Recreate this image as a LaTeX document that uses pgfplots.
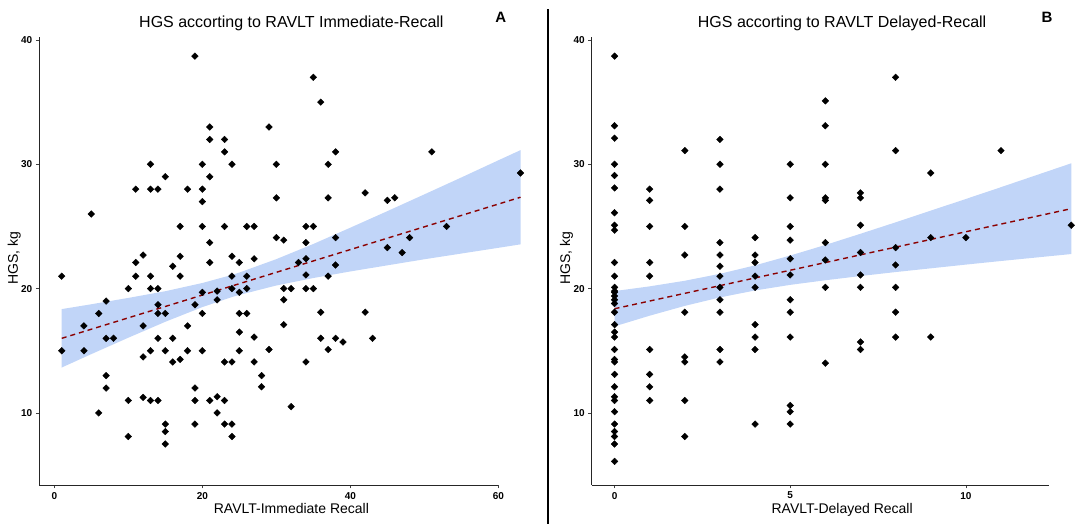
\documentclass[border=0pt]{standalone}
\usepackage{fontspec}
\setmainfont{Liberation Sans}
\usepackage{pgfplots}
\usepackage{pgfplotstable}
\pgfplotsset{compat=1.18}
\definecolor{bandblue}{RGB}{100,149,237}
\definecolor{fitred}{RGB}{139,0,0}

\pgfplotstableread{
x y
1 21
1 15
4 17
4 15
5 26
6 18
6 10
7 19
7 16
7 13
7 12
8 16
10 20
10 11
10 8.1
11 28
11 22.1
11 21
12 22.7
12 17
12 14.5
12 11.25
13 30
13 28
13 21
13 20
13 15
13 11
14 28
14 20
14 18.7
14 18
14 16
14 11
15 29
15 18
15 15
15 9.1
15 8.5
15 7.5
16 21.8
16 16
16 14.1
17 25
17 22.6
17 21
17 14.3
18 28
18 17
18 15
19 38.7
19 18.7
19 12
19 11
19 9.1
20 30
20 28
20 27
20 25
20 19.7
20 18
20 15
21 33
21 32
21 29
21 23.7
21 22.1
21 11
22 19.8
22 19.1
22 11.3
22 10
23 32
23 31
23 25
23 14.1
23 11
23 9.1
24 30
24 22.6
24 21
24 20
24 14.1
24 9.1
24 8.1
25 22.1
25 19.7
25 18
25 16.5
25 15
26 25
26 21
26 20
26 18
27 25
27 22.4
27 16.1
27 14.1
28 13
28 12.1
29 33
29 15.1
30 30
30 27.3
30 24.1
31 23.9
31 20
31 19.1
31 17.1
32 20
32 10.5
33 22.1
34 25
34 23.7
34 22.4
34 21.1
34 20
34 14.1
35 37
35 25
35 20
36 35
36 18.1
36 16
37 30
37 27.3
37 21
37 15.1
38 31
38 24.1
38 21.9
38 16
39 15.7
42 27.7
42 18.1
43 16
45 27.1
45 23.3
46 27.3
47 22.9
48 24.1
51 31
53 25
63 29.3
}\dataA

\pgfplotstableread{
x y
0 38.7
0 33.1
0 32.1
0 30
0 29.1
0 28.1
0 26.1
0 25.1
0 24.7
0 22.1
0 21
0 20.1
0 19.8
0 19.7
0 19.4
0 19.1
0 18.8
0 18.1
0 17.1
0 16.5
0 16.1
0 15.1
0 14.3
0 14.1
0 13.1
0 12.1
0 11.3
0 11
0 10.1
0 9.1
0 8.5
0 8.1
0 7.5
0 6.1
1 28
1 27.1
1 25
1 22.1
1 21
1 15.1
1 13.1
1 12.1
1 11
2 31.1
2 25
2 22.7
2 18.1
2 14.5
2 14.1
2 11
2 8.1
3 32
3 30
3 28
3 23.7
3 22.7
3 21.8
3 21
3 20.1
3 19.1
3 18.1
3 15.1
3 14.1
4 24.1
4 22.7
4 22.1
4 21
4 20.1
4 17.1
4 16.1
4 15.1
4 9.1
5 30
5 27.3
5 25
5 23.9
5 22.4
5 21.1
5 19.1
5 18.1
5 16.1
5 10.6
5 10.1
5 9.1
6 35.1
6 33.1
6 30
6 27.3
6 27.1
6 23.7
6 22.3
6 20.1
6 14
7 27.7
7 27.3
7 25.1
7 22.9
7 21.1
7 20.1
7 15.7
7 15.1
8 37
8 31.1
8 23.3
8 21.9
8 20.1
8 18.1
8 16.1
9 29.3
9 24.1
9 16.1
10 24.1
11 31.1
13 25.1
}\dataB

\pgfplotsset{hgs/.style={
  scale only axis, anchor=south west,
  axis x line=bottom, axis y line=left,
  axis line style={-, line width=0.8pt, black!85},
  x axis line style={draw=none},
  tick align=outside, major tick length=3.5pt,
  tick style={black!75, line width=0.6pt},
  ymin=4.2, ymax=40.2, height=447.5pt,
  ytick={10,20,30,40},
  ticklabel style={font=\fontsize{10}{11}\selectfont\bfseries, text=black},
  /pgf/number format/assume math mode=true,
  title style={font=\fontsize{16}{19}\selectfont, anchor=base, yshift=4.4pt},
  xlabel style={font=\fontsize{14}{16}\selectfont, anchor=base, yshift=-28.3pt},
  ylabel style={font=\fontsize{14}{16}\selectfont, anchor=base},
  clip=false,
  ylabel={HGS, kg},
}}

\begin{document}
\begin{tikzpicture}
\useasboundingbox (0,0) rectangle (1084pt,524pt);

% Panel A
\begin{axis}[hgs,
  at={(39.3pt,39pt)},
  xmin=-2.03, xmax=66.1, width=504.2pt,
  xtick={0,20,40,60},
  title={HGS accorting to RAVLT Immediate-Recall},
  title style={at={(axis description cs:0.5,1)}},
  xlabel={RAVLT-Immediate Recall},
  xlabel style={at={(axis description cs:0.5,0)}},
  ylabel style={at={(axis description cs:-0.0426,0.507)}},
]
\draw[line width=0.8pt, black!85] (axis cs:-2.03,4.2) -- (axis cs:60,4.2);
\addplot[only marks, mark=square*, mark size=2.35pt, mark options={rotate=45, fill=black, draw=black}] table[x=x,y=y] {\dataA};
\addplot[draw=none, fill=bandblue, fill opacity=0.4] coordinates {
(1,18.35)(5,18.74)(10,19.25)(15,19.79)(20,20.45)(24,21.10)(25,21.29)(30,22.37)(35,23.59)(40,24.90)(45,26.23)(50,27.58)(55,28.94)(60,30.32)(63,31.14)
(63,23.56)(60,23.28)(55,22.82)(50,22.36)(45,21.87)(40,21.38)(35,20.85)(30,20.25)(25,19.49)(24,19.32)(20,18.51)(15,17.33)(10,16.05)(5,14.73)(1,13.65)
} -- cycle;
\addplot[fitred, line width=1.4pt, dash pattern=on 5pt off 4pt] coordinates {(1,16.0)(63,27.35)};
\end{axis}

% Panel B
\begin{axis}[hgs,
  at={(591.7pt,39pt)},
  xmin=-0.65, xmax=13.3, width=490.1pt,
  xtick={0,5,10},
  title={HGS accorting to RAVLT Delayed-Recall},
  title style={at={(axis description cs:0.511,1)}},
  xlabel={RAVLT-Delayed Recall},
  xlabel style={at={(axis description cs:0.511,0)}},
  ylabel style={at={(axis description cs:-0.0439,0.507)}},
]
\draw[line width=0.8pt, black!85] (axis cs:-0.65,4.2) -- (axis cs:12.38,4.2);
\addplot[only marks, mark=square*, mark size=2.35pt, mark options={rotate=45, fill=black, draw=black}] table[x=x,y=y] {\dataB};
\addplot[draw=none, fill=bandblue, fill opacity=0.4] coordinates {
(0,19.80)(1,20.18)(2,20.63)(3,21.19)(4,21.87)(5,22.66)(6,23.51)(7,24.41)(8,25.33)(9,26.27)(10,27.21)(11,28.16)(12,29.12)(13,30.08)
(13,22.78)(12,22.50)(11,22.22)(10,21.93)(9,21.63)(8,21.33)(7,21.01)(6,20.67)(5,20.30)(4,19.85)(3,19.29)(2,18.61)(1,17.82)(0,16.96)
} -- cycle;
\addplot[fitred, line width=1.4pt, dash pattern=on 5pt off 4pt] coordinates {(0,18.38)(13,26.43)};
\end{axis}

% panel letters and divider
\node[font=\fontsize{15}{18}\selectfont\bfseries, anchor=base] at (500.7pt,501pt) {A};
\node[font=\fontsize{15}{18}\selectfont\bfseries, anchor=base] at (1047pt,501pt) {B};
\draw[line width=1.8pt, black] (548pt,0pt) -- (548pt,515pt);
\end{tikzpicture}
\end{document}
